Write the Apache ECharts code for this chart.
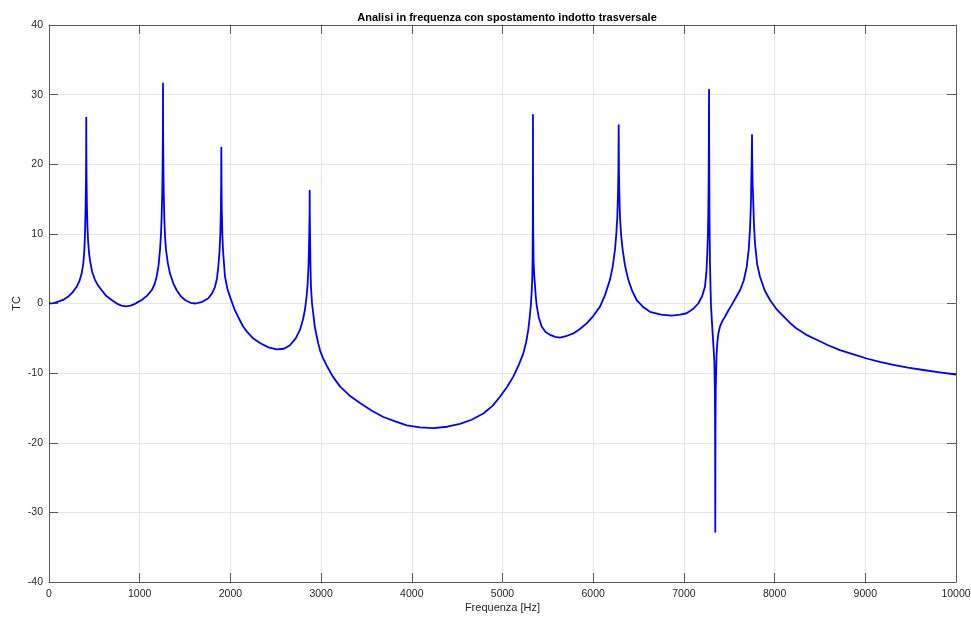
<!DOCTYPE html>
<html>
<head>
<meta charset="utf-8">
<script src="https://cdn.jsdelivr.net/npm/echarts@6/dist/echarts.min.js"></script>
<style>html,body{margin:0;padding:0;background:#fff}#c{width:971px;height:619px}</style>
</head>
<body>
<div id="c"></div>
<script>
const titleText = 'Analisi in frequenza con spostamento indotto trasversale';
const xLabel = 'Frequenza [Hz]';
const yLabel = 'TC';
const xTicks = [0,1000,2000,3000,4000,5000,6000,7000,8000,9000,10000];
const yTicks = [-40,-30,-20,-10,0,10,20,30,40];

const freq = [0,50,103,160,213,260,305,335,360,378,390,398,404,408,410,411,412,414,418,424,432,442,452,475,507,540,581,630,691,760,800,849,900,940,980,1022,1080,1132,1165,1187,1207,1224,1235,1242,1249,1253,1256,1257,1258,1261,1265,1272,1280,1290,1310,1334,1370,1408,1450,1499,1560,1617,1690,1757,1800,1830,1852,1867,1880,1889,1895,1898,1900,1902,1905,1911,1918,1925,1940,1965,2000,2050,2100,2140,2180,2250,2330,2420,2510,2590,2657,2720,2767,2800,2822,2840,2852,2860,2866,2870,2873,2874,2875,2878,2882,2888,2900,2914,2930,2950,2970,2990,3020,3061,3130,3208,3320,3429,3560,3686,3810,3944,4090,4237,4390,4531,4660,4788,4890,4972,5050,5119,5180,5229,5260,5284,5300,5314,5322,5328,5332,5334,5335,5336,5337,5339,5343,5350,5358,5367,5377,5400,5432,5475,5524,5580,5634,5700,5781,5850,5928,6000,6075,6130,6185,6215,6240,6255,6266,6273,6278,6281,6284,6289,6295,6308,6325,6350,6387,6430,6479,6550,6626,6750,6865,6960,7030,7100,7158,7200,7232,7248,7258,7265,7269,7273,7275,7277,7279,7282,7287,7295,7299,7318,7335,7341,7344,7346,7348,7351,7354,7360,7368,7380,7398,7425,7453,7490,7527,7575,7619,7660,7693,7715,7730,7739,7744,7748,7751,7754,7758,7762,7772,7784,7808,7839,7890,7949,8020,8096,8170,8243,8350,8464,8590,8721,8870,9015,9160,9309,9470,9639,9820,10000];
const tc = [0,0.05,0.26,0.55,1.0,1.6,2.4,3.2,4.3,5.7,7.7,10.5,14.0,18,22,26.7,22,18,14.0,11,8.8,7.2,6.2,4.6,3.4,2.6,1.9,1.1,0.5,-0.1,-0.3,-0.4,-0.3,-0.1,0.2,0.5,1.1,1.9,2.8,3.85,5.4,7.7,10,12.5,16,20,25,31.6,25,20,16,12.0,9.5,7.7,5.8,4.3,2.9,1.9,1.1,0.5,0.1,0.0,0.25,0.75,1.5,2.4,3.6,5.3,7.5,10,13.5,17,22.4,17,13.5,10,7.8,6.5,3.9,2.2,0.8,-1.0,-2.3,-3.3,-4.0,-5.0,-5.7,-6.3,-6.6,-6.5,-6.0,-5.0,-3.8,-2.3,-0.9,1.0,2.9,5.0,7.7,10.5,13,16.2,13,10,6,2.5,0.0,-1.5,-3.3,-4.6,-5.8,-6.8,-7.8,-8.9,-10.5,-11.9,-13.3,-14.3,-15.4,-16.3,-16.9,-17.5,-17.8,-17.9,-17.7,-17.3,-16.7,-15.8,-14.7,-13.4,-12.0,-10.5,-8.8,-7.2,-5.6,-3.8,-2.0,0.0,1.8,3.4,7,11,15,27.1,15,10,6,4,2.6,1.0,-0.3,-2.0,-3.3,-4.1,-4.5,-4.8,-4.9,-4.7,-4.3,-3.7,-2.85,-1.8,-0.45,1.2,3.4,5.3,7.7,10,12.5,15.5,19,25.6,19,15.5,12.5,9.8,7.7,5.5,3.4,1.8,0.5,-0.5,-1.2,-1.6,-1.75,-1.6,-1.4,-0.8,0.0,1.0,2.4,4.5,7.2,10,13,18,23,30.7,22,13,6.2,1.5,-0.45,-4.5,-8.1,-12,-18,-32.8,-18,-12.5,-10.5,-7.5,-5.7,-4.3,-3.3,-2.5,-1.9,-1.0,-0.2,0.9,1.9,3.3,5.3,7.8,11,14.5,18.2,21,24.2,20,17,15.8,11.5,8.6,5.6,3.85,1.9,0.5,-0.8,-1.8,-2.8,-3.6,-4.5,-5.2,-6.0,-6.7,-7.3,-7.9,-8.4,-8.8,-9.2,-9.55,-9.9,-10.2];

const data = freq.map((f,i)=>[f,tc[i]]);
const font = "'Liberation Sans', Arial, Helvetica, sans-serif";
const axisLineColor = '#5a5a5a';
const tickColor = '#262626';

const chart = echarts.init(document.getElementById('c'), null, {renderer:'canvas'});
chart.setOption({
  animation:false,
  backgroundColor:'#fff',
  title:{text:titleText,left:502,textAlign:'center',top:7,textStyle:{fontFamily:font,fontSize:11,fontWeight:'bold',color:'#000'}},
  grid:{left:49,right:15,top:25,bottom:37,containLabel:false,outerBoundsMode:'none'},
  xAxis:[{
    type:'value',min:xTicks[0],max:xTicks[xTicks.length-1],interval:1000,
    name:xLabel,nameLocation:'middle',nameGap:20,nameMoveOverlap:false,
    nameTextStyle:{fontFamily:font,fontSize:11,color:tickColor,verticalAlign:'top'},
    axisLine:{show:true,onZero:false,lineStyle:{color:axisLineColor,width:1}},
    axisTick:{show:true,inside:true,length:9,lineStyle:{color:axisLineColor}},
    axisLabel:{fontFamily:font,fontSize:10.5,color:tickColor,margin:7,formatter:v=>String(v)},
    splitLine:{show:true,lineStyle:{color:'#e6e6e6',width:1}}
  },{
    type:'value',position:'top',min:xTicks[0],max:xTicks[xTicks.length-1],interval:1000,
    axisLine:{show:true,onZero:false,lineStyle:{color:axisLineColor,width:1}},
    axisTick:{show:true,inside:true,length:9,lineStyle:{color:axisLineColor}},
    axisLabel:{show:false},splitLine:{show:false}
  }],
  yAxis:[{
    type:'value',min:yTicks[0],max:yTicks[yTicks.length-1],interval:10,
    name:yLabel,nameLocation:'middle',nameGap:27,nameRotate:90,nameMoveOverlap:false,
    nameTextStyle:{fontFamily:font,fontSize:11,color:tickColor},
    axisLine:{show:true,onZero:false,lineStyle:{color:axisLineColor,width:1}},
    axisTick:{show:true,inside:true,length:9,lineStyle:{color:axisLineColor}},
    axisLabel:{fontFamily:font,fontSize:10.5,color:tickColor,margin:6,formatter:v=>String(v)},
    splitLine:{show:true,lineStyle:{color:'#e6e6e6',width:1}}
  },{
    type:'value',position:'right',min:yTicks[0],max:yTicks[yTicks.length-1],interval:10,
    axisLine:{show:true,onZero:false,lineStyle:{color:axisLineColor,width:1}},
    axisTick:{show:true,inside:true,length:9,lineStyle:{color:axisLineColor}},
    axisLabel:{show:false},splitLine:{show:false}
  }],
  series:[{
    type:'line',xAxisIndex:0,yAxisIndex:0,data:data,
    showSymbol:false,symbol:'none',smooth:false,
    lineStyle:{color:'#0000ff',width:1.8,join:'round'},
    emphasis:{disabled:true}
  }]
});
</script>
</body>
</html>
